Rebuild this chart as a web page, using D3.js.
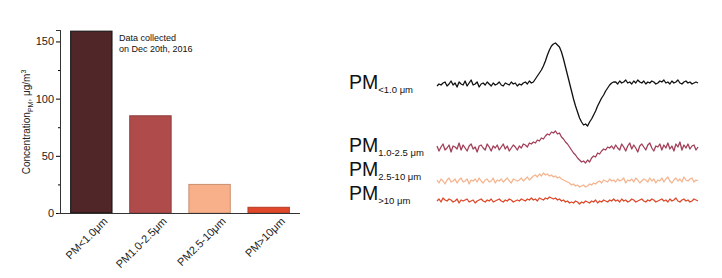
<!DOCTYPE html>
<html>
<head>
<meta charset="utf-8">
<script src="https://cdn.jsdelivr.net/npm/d3@7"></script>
<style>
  body { margin: 0; background: #fff; }
  text { font-family: "Liberation Sans", Arial, sans-serif; }
</style>
</head>
<body>
<div id="chart"></div>
<script>
// bar chart data
const categories = ["PM<1.0μm", "PM1.0-2.5μm", "PM2.5-10μm", "PM>10μm"];
const concentrations = [159, 85, 25, 5];
const yTicks = [0, 50, 100, 150];
const barColors = ["#502628", "#b04b4b", "#f8b08a", "#e0482c"];

// trace data (relative signal, arbitrary units)
const trace1 = [
  -1, 1, 0, 2, 3, -1, 1, 4, 0, 2, -2, 3, 1, 0, 4, -1, 2, 5, 0, 1, 3, -2, 1, 2, 0, 3, 1, -1, 2, 0, 1, 3, 0, -1, 2, 1, 0, 3, 1, 2, -1, 1, 0, 2, 3, 1, 4, 2, 3,
  6, 9, 12, 15, 19, 24, 30, 35, 39, 41, 42, 40,
  38, 33, 26, 18, 10, 2, -6, -14, -21, -27, -33, -37, -40, -39,
  -41, -37, -34, -30, -26, -21, -17, -13, -10, -6, -3, 0, 2, 3,
  3, 1, 4, 2, 3, 5, 2, 3, 1, 4, 2, 5, 3, 2, 4, 1, 3, 2, 4, 3, 1, 2, 4, 3, 5, 2, 3, 1, 4, 2, 3, 5, 2, 1, 3, 4, 2, 3, 1, 2, 3, 2
];
const trace2 = [
  2, -3, 1, 4, -2, 0, 3, -4, 2, 1, -1, 5, -2, 3, 0, -3, 2, 4, -1, 1, -4, 2, 3, 0, -2, 4, 1, -3, 2, 0, 3, -2, 1, 4, -1, 2, -3, 0, 3, 1, -2,
  2, 0, 4, 3, 1, 5, 4, 6, 5, 8, 7, 10, 9, 12, 14, 13, 16, 15,
  17, 14, 15, 11, 9, 6, 4, 1, -2, -5, -7, -10, -12, -14, -13, -15,
  -12, -14, -10, -8, -9, -5, -6, -3, -1, -2, 1, 0, 2, -1,
  3, 0, -2, 4, 1, -3, 2, 5, -1, 3, 0, -4, 2, 4, 1, -2, 3, 5, 0, -3, 2, 1, 4, -2, 3, 0, 5, -1, 2, -3, 4, 1, 6, -2, 3, 0, 4, -1, 2, 3, -2, 1
];
const trace3 = [
  1, -2, 2, 0, -3, 1, 3, -1, 0, 2, -2, 1, 3, -1, 0, 2, -3, 1, 0, 2, -1, 3, 0, -2, 1, 2, -1, 0, 3, -2, 1, 0, 2, -1, 1, 3, 0, -2, 2, 1, 0,
  1, 3, 0, 2, 4, 1, 3, 5, 6, 4, 7, 5, 8, 6, 7, 5, 6, 4,
  5, 3, 4, 2, 1, 0, -1, -2, -4, -3, -5, -4, -6, -5, -4, -6,
  -5, -3, -4, -2, -3, -1, 0, -2, 1, 0, -1, 2, 0, 1,
  -1, 2, 0, 1, 3, -2, 1, 0, 2, -1, 3, 1, -2, 0, 2, 1, -1, 3, 0, 2, -2, 1, 0, 3, -1, 2, 4, 0, -2, 1, 3, 0, 2, -1, 4, 1, 0, 2, 3, -1, 1, 0
];
const trace4 = [
  0, 2, -1, 3, 1, 0, 2, 1, -1, 0, 2, -2, 1, 0, 1, 2, -1, 0, 1, -2, 0, 1, 2, 0, -1, 1, 0, 2, -1, 0, 1, 2, 0, -1, 1, 0, 2, 1, -1, 0, 1,
  0, 2, 1, 0, 2, 1, 3, 1, 2, 0, 3, 2, 1, 3, 2, 4, 3, 2,
  3, 1, 2, 0, 1, -1, 0, -2, -1, -2, 0, -1, -3, -1, -2, 0,
  -1, -2, 0, -1, 1, -2, 0, -1, 1, 0, -1, 1, 0, 2,
  0, 1, -1, 2, 0, 1, -1, 0, 2, 1, -1, 0, 1, 2, 0, -1, 1, 0, 2, 1, -1, 0, 1, 2, 0, 1, -1, 2, 0, 1, 3, 0, -1, 1, 2, 0, 1, -1, 0, 2, 1, 0
];
const traceSubs = ["<1.0 μm", "1.0-2.5 μm", "2.5-10 μm", ">10 μm"];
const traceColors = ["#111111", "#a3405a", "#f4b590", "#dc4a2c"];

const W = 722, H = 278;
const svg = d3.select("#chart").append("svg")
  .attr("width", W).attr("height", H);

// ---- bar chart ----
const x = d3.scaleBand().domain(categories).range([60, 300]).paddingInner(0.3).paddingOuter(0.18);
const y = d3.scaleLinear().domain([0, 160]).range([213, 30]);

const bars = svg.append("g");
bars.selectAll("rect")
  .data(concentrations)
  .join("rect")
  .attr("x", (d, i) => x(categories[i]))
  .attr("y", d => y(d))
  .attr("width", x.bandwidth())
  .attr("height", d => y(0) - y(d))
  .attr("fill", (d, i) => barColors[i])
  .attr("stroke", (d, i) => i === 0 ? "#111" : d3.color(barColors[i]).darker(0.6))
  .attr("stroke-width", 1);

const yAxis = svg.append("g")
  .attr("transform", "translate(60,0)")
  .call(d3.axisLeft(y).tickValues(yTicks).tickSize(4).tickPadding(2));
yAxis.append("g")
  .call(d3.axisLeft(y).tickValues([25, 75, 125]).tickSize(2).tickFormat(""));
yAxis.selectAll(".domain").attr("stroke", "#333");
yAxis.selectAll("text").attr("font-size", 11).attr("fill", "#222")
  .attr("font-family", "Liberation Sans, Arial, sans-serif");

const xAxis = svg.append("g")
  .attr("transform", "translate(0,213)")
  .call(d3.axisBottom(x).tickSize(0).tickPadding(0));
xAxis.select(".domain").attr("d", "M60,0.5H300").attr("stroke", "#333");
xAxis.selectAll("text")
  .attr("font-size", 11)
  .attr("fill", "#222")
  .attr("font-family", "Liberation Sans, Arial, sans-serif")
  .attr("text-anchor", "end")
  .attr("x", 0).attr("y", 0)
  .attr("dy", null)
  .attr("transform", "translate(17,9) rotate(-45)");

const yl = svg.append("text")
  .attr("transform", "translate(30,122) rotate(-90)")
  .attr("text-anchor", "middle")
  .attr("font-size", 10)
  .attr("fill", "#222");
yl.append("tspan").text("Concentration");
yl.append("tspan").attr("font-size", 7).attr("dy", 3).text("PM");
yl.append("tspan").attr("dy", -3).text(", μg/m");
yl.append("tspan").attr("font-size", 7).attr("dy", -4).text("3");

const note = svg.append("text").attr("font-size", 9).attr("fill", "#111");
note.append("tspan").attr("x", 119).attr("y", 41).text("Data collected");
note.append("tspan").attr("x", 119).attr("y", 52).text("on Dec 20th, 2016");

// ---- traces ----
const traces = [trace1, trace2, trace3, trace4];
const baselines = [85, 148, 181, 201];
const labelY = [89, 152, 176, 200];
const tx = d3.scaleLinear().domain([0, trace1.length - 1]).range([437, 698]);
const tAmp = d3.scaleLinear().domain([0, 1]).range([0, -1]);

traces.forEach((tr, k) => {
  const line = d3.line()
    .x((d, i) => tx(i))
    .y(d => baselines[k] + tAmp(d));
  svg.append("path")
    .datum(tr)
    .attr("d", line)
    .attr("fill", "none")
    .attr("stroke", traceColors[k])
    .attr("stroke-width", 1.3)
    .attr("stroke-linejoin", "round");

  const lab = svg.append("text")
    .attr("x", 349).attr("y", labelY[k])
    .attr("font-size", 19.5)
    .attr("fill", "#111");
  lab.append("tspan").text("PM");
  lab.append("tspan").attr("font-size", 9.5).attr("dy", 4).text(traceSubs[k]);
});
</script>
</body>
</html>
